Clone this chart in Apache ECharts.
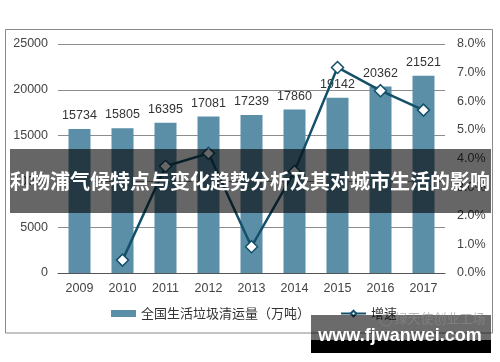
<!DOCTYPE html>
<html>
<head>
<meta charset="utf-8">
<script src="https://cdn.jsdelivr.net/npm/echarts@6/dist/echarts.min.js"></script>
<style>html,body{margin:0;padding:0;background:#fff}#c{width:500px;height:362px}</style>
</head>
<body>
<div id="c"></div>
<script>
const years = ['2009','2010','2011','2012','2013','2014','2015','2016','2017'];
const volume = [15734, 15805, 16395, 17081, 17239, 17860, 19142, 20362, 21521];
const growth = [null, 0.45, 3.73, 4.18, 0.92, 3.55, 7.18, 6.37, 5.69];
const volumeName = '全国生活垃圾清运量（万吨）';
const growthName = '增速';
const bannerText = '利物浦气候特点与变化趋势分析及其对城市生活的影响';
const watermarkUrl = 'www.fjwanwei.com';
const watermarkName = '绿天使创业工场';

const chart = echarts.init(document.getElementById('c'), null, {renderer: 'canvas'});
const font = 'Liberation Sans, Arial, Noto Sans CJK SC';
chart.setOption({
  animation: false,
  textStyle: {fontFamily: font},
  grid: {left: 58, right: 55, top: 44, bottom: 89},
  legend: {
    bottom: 37, left: 106,
    itemGap: 30,
    textStyle: {fontSize: 13, color: '#333', fontFamily: 'Noto Sans CJK SC'},
    data: [
      {name: volumeName, icon: 'rect'},
      {name: growthName}
    ],
    itemWidth: 25, itemHeight: 7
  },
  xAxis: {
    type: 'category', data: years,
    axisLine: {lineStyle: {color: '#555', width: 1}},
    axisTick: {show: false},
    axisLabel: {color: '#444', fontSize: 12.5, margin: 9}
  },
  yAxis: [
    {type: 'value', min: 0, max: 25000, interval: 5000,
     axisLine: {show: false}, axisTick: {show: false},
     axisLabel: {color: '#444', fontSize: 12.5, margin: 10, formatter: v => String(v)},
     splitLine: {lineStyle: {color: '#8c8c8c', width: 1}}},
    {type: 'value', min: 0, max: 8, interval: 1,
     axisLine: {show: false}, axisTick: {show: false},
     axisLabel: {color: '#444', fontSize: 12.5, margin: 12, formatter: v => v.toFixed(1) + '%'},
     splitLine: {show: false}}
  ],
  series: [
    {name: volumeName, type: 'bar', data: volume, barWidth: 22,
     itemStyle: {color: '#5b8fa7'},
     label: {show: true, position: 'top', distance: 7, color: '#333', fontSize: 12.5},
     z: 2},
    {name: growthName, type: 'line', yAxisIndex: 1, data: growth,
     symbol: 'diamond', symbolSize: 12, connectNulls: false,
     lineStyle: {color: '#14506a', width: 2.5},
     itemStyle: {color: '#ffffff', borderColor: '#14506a', borderWidth: 1.5},
     z: 5}
  ],
  graphic: [
    {type: 'rect', shape: {x: 5.5, y: 29.5, width: 487, height: 303.5}, style: {fill: 'none', stroke: '#8a8a8a', lineWidth: 1}, z: 0, silent: true},
    {type: 'rect', shape: {x: 10, y: 149, width: 481, height: 64}, style: {fill: 'rgba(0,0,0,0.6)'}, z: 100},
    {type: 'text', x: 250, y: 181, style: {text: bannerText, fill: '#fff', font: 'bold 20px "Noto Sans CJK SC"', textAlign: 'center', textVerticalAlign: 'middle'}, z: 101},
    {type: 'rect', shape: {x: 311, y: 315, width: 180, height: 25}, style: {fill: 'rgba(0,0,0,0.58)'}, z: 100},
    {type: 'rect', shape: {x: 311, y: 340, width: 180, height: 13}, style: {fill: '#000'}, z: 100},
    {type: 'text', x: 440, y: 318, style: {text: watermarkName, fill: 'rgba(140,140,140,0.6)', font: '13px "Noto Sans CJK SC"', textAlign: 'center', textVerticalAlign: 'middle'}, z: 101},
    {type: 'circle', shape: {cx: 386, cy: 320, r: 6}, style: {fill: 'none', stroke: 'rgba(140,140,140,0.5)', lineWidth: 1}, z: 101},
    {type: 'text', x: 400, y: 336, style: {text: watermarkUrl, fill: '#fff', font: 'bold 18px "Liberation Sans"', textAlign: 'center', textVerticalAlign: 'middle'}, z: 101}
  ]
});
</script>
</body>
</html>
